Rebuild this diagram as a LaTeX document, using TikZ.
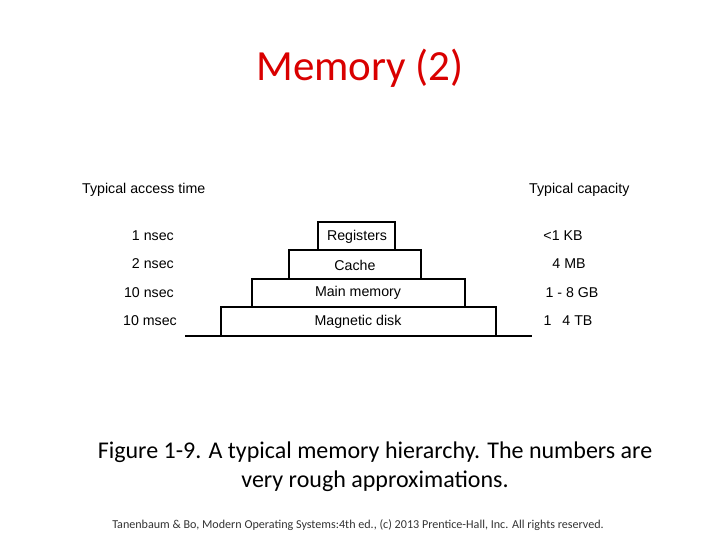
\documentclass[tikz,border=0pt]{standalone}
\usepackage{fontspec}
\setmainfont{Carlito}
\newfontfamily\arialfont{Liberation Sans}
\usepackage{tikz}

\begin{document}
\begin{tikzpicture}[x=1pt,y=-1pt,
    level/.style={draw, line width=1.3pt},
    lbl/.style={font=\arialfont\fontsize{14.2}{16}\selectfont, inner sep=0pt},
    timelbl/.style={lbl, anchor=east},
    caplbl/.style={lbl}]
            % Canvas
            \useasboundingbox (0,0) rectangle (720,540);
            \node[red!85!black, font=\fontsize{43}{50}\selectfont] (title) at (360,68) {Memory (2)};
            
            % Headers
            \node[lbl, anchor=west] (hdrtime) at (82,190) {Typical access time};
            \node[lbl, anchor=west] (hdrcap) at (529,190) {Typical capacity};
            
            % Pyramid levels
            \draw[level] (318,222) rectangle (395,250);
            \draw[level] (289,250) rectangle (421,279);
            \draw[level] (252,279) rectangle (465,307);
            \draw[level] (221,307) rectangle (496,336);
            \draw[level] (185,336) -- (532,336);
            \node[lbl] (reg) at (357,237) {Registers};
            \node[lbl] (cache) at (355,265) {Cache};
            \node[lbl] (mainmem) at (358,293) {Main memory};
            \node[lbl] (disk) at (358,322) {Magnetic disk};
            
            % Access times
            \node[timelbl] (t1) at (174,236) {1 nsec};
            \node[timelbl] (t2) at (174,264) {2 nsec};
            \node[timelbl] (t3) at (174,293) {10 nsec};
            \node[timelbl] (t4) at (177,321) {10 msec};
            
            % Capacities
            \node[caplbl] (c1) at (563,236) {<1 KB};
            \node[caplbl] (c2) at (569,264) {4 MB};
            \node[caplbl] (c3) at (572,293) {1 - 8 GB};
            \node[caplbl] (c4) at (568,321) {1 \enspace 4 TB};
            
            % Caption and footer
            \node[align=center, font=\fontsize{24}{29}\selectfont] (caption) at (375,467) {Figure 1-9. A typical memory hierarchy. The numbers are\\very rough approximations.};
            \node[font=\fontsize{12.1}{14}\selectfont, gray!40!black] (footer) at (358,525) {Tanenbaum \& Bo, Modern Operating Systems:4th ed., (c) 2013 Prentice-Hall, Inc. All rights reserved.};
\end{tikzpicture}
\end{document}
